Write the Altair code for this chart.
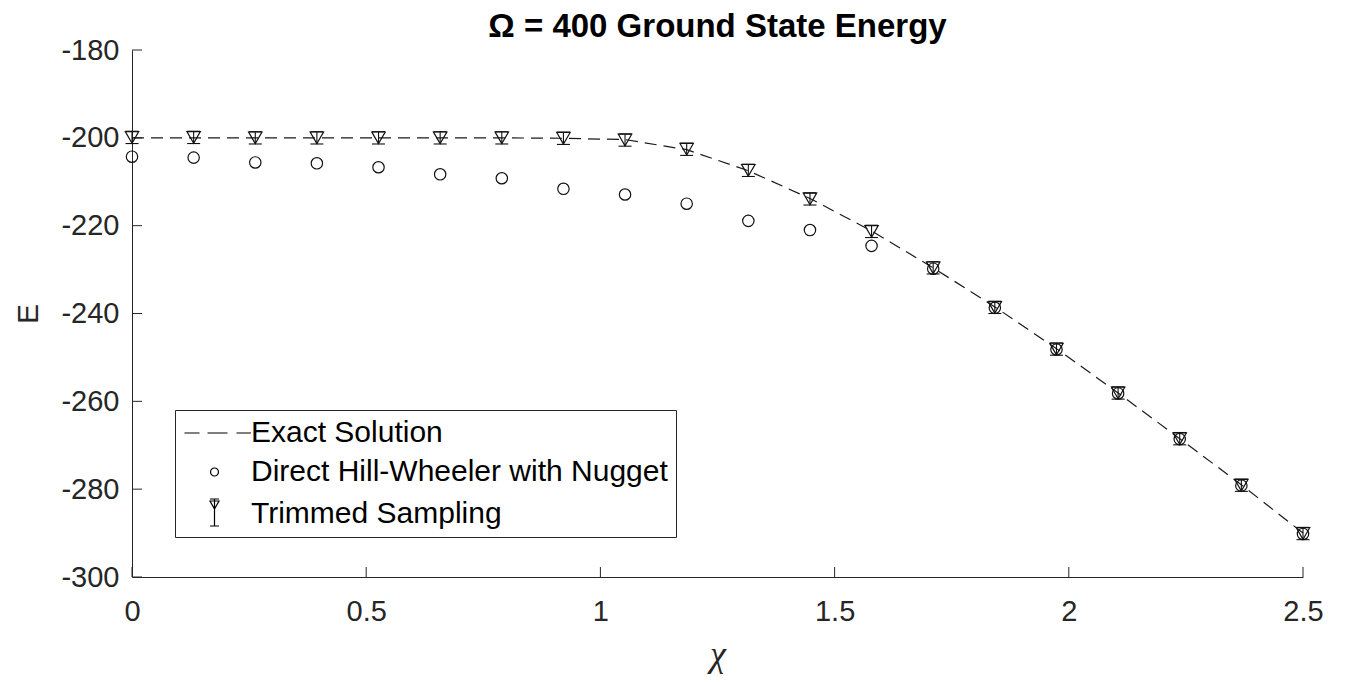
import altair as alt
import pandas as pd

# ---- data ----
chi = [0.0, 0.1316, 0.2632, 0.3947, 0.5263, 0.6579, 0.7895, 0.9211, 1.0526, 1.1842,
       1.3158, 1.4474, 1.5789, 1.7105, 1.8421, 1.9737, 2.1053, 2.2368, 2.3684, 2.5]
exact = [-200.0, -200.0, -200.0, -200.0, -200.0, -200.0, -200.0, -200.1, -200.4, -202.7,
         -207.5, -213.8, -221.2, -229.6, -238.5, -248.0, -258.1, -268.5, -279.0, -290.0]
nugget = [-204.3, -204.5, -205.6, -205.8, -206.7, -208.3, -209.2, -211.6, -212.9, -215.0,
          -218.9, -221.0, -224.6, -229.8, -238.7, -248.2, -258.2, -268.6, -279.2, -290.2]
trimmed = [-199.9, -199.9, -200.0, -200.0, -200.0, -200.0, -200.0, -200.1, -200.5, -202.6,
           -207.4, -213.9, -221.3, -229.6, -238.6, -248.1, -258.1, -268.5, -279.1, -290.1]
trimmed_err = [1.4, 1.4, 1.4, 1.4, 1.4, 1.4, 1.4, 1.4, 1.4, 1.4,
               1.4, 1.4, 1.4, 1.4, 1.4, 1.4, 1.4, 1.4, 1.4, 1.4]
x_ticks = [0, 0.5, 1, 1.5, 2, 2.5]
y_ticks = [-300, -280, -260, -240, -220, -200, -180]
series_names = ["Exact Solution", "Direct Hill-Wheeler with Nugget", "Trimmed Sampling"]
title_text = "Ω = 400 Ground State Energy"
x_title = "χ"
y_title = "E"

# ---- layout / style ----
W, H = 1171, 527
FONT = "Liberation Sans"
AX = "#262626"
TICK = 10

df = pd.DataFrame({"chi": chi, "exact": exact, "nugget": nugget,
                   "trimmed": trimmed, "err": trimmed_err})
xt = pd.DataFrame({"v": x_ticks})
yt = pd.DataFrame({"v": y_ticks})
leg = pd.DataFrame({"series": series_names})

xscale = alt.Scale(domain=[0, 2.5], nice=False, zero=False)
yscale = alt.Scale(domain=[-300, -180], nice=False, zero=False)

xaxis = alt.Axis(values=x_ticks, labelExpr="'' + datum.value", title=x_title,
                 grid=False, ticks=False, tickSize=0, labelPadding=20, labelFlush=False,
                 labelFont=FONT, labelFontSize=29, labelColor=AX,
                 domainColor=AX, domainWidth=1,
                 titleFont="Liberation Serif", titleFontStyle="italic",
                 titleFontWeight="normal", titleFontSize=36, titleColor=AX,
                 titleX=W / 2, titleY=88, titleBaseline="alphabetic", titleAlign="center")
yaxis = alt.Axis(values=y_ticks, labelExpr="'' + datum.value", title=y_title,
                 grid=False, ticks=False, tickSize=0, labelPadding=13, labelFlush=False,
                 labelFont=FONT, labelFontSize=29, labelColor=AX,
                 domainColor=AX, domainWidth=1,
                 titleFont=FONT, titleFontWeight="normal", titleFontSize=30,
                 titleColor=AX, titleX=-95, titleY=H / 2, titleAngle=270,
                 titleBaseline="alphabetic", titleAlign="center")

X = lambda f: alt.X(f, type="quantitative", scale=xscale, axis=xaxis)
Y = lambda f: alt.Y(f, type="quantitative", scale=yscale, axis=yaxis)

base = alt.Chart(df)

exact_line = base.mark_line(color="#1a1a1a", strokeWidth=1.2, strokeDash=[12, 7]).encode(
    x=X("chi"), y=Y("exact"))

circles = base.mark_point(shape="circle", filled=False, size=130, color="#111111",
                          strokeWidth=1.2, opacity=1).encode(x=X("chi"), y=Y("nugget"))

eb = base.transform_calculate(lo="datum.trimmed - datum.err", hi="datum.trimmed + datum.err")
err_rule = eb.mark_rule(color="#111111", strokeWidth=1.1).encode(
    x=X("chi"), y=Y("lo:Q"), y2="hi:Q")
cap_hi = eb.mark_tick(orient="horizontal", size=13, thickness=1.1, color="#111111",
                      opacity=1).encode(x=X("chi"), y=Y("hi:Q"))
cap_lo = eb.mark_tick(orient="horizontal", size=13, thickness=1.1, color="#111111",
                      opacity=1).encode(x=X("chi"), y=Y("lo:Q"))
triangles = base.mark_point(shape="triangle-down", filled=False, size=180, color="#111111",
                            strokeWidth=1.2, opacity=1).encode(x=X("chi"), y=Y("trimmed"))

# legend carried by an empty layer with custom symbol shapes
dash_path = "M-3.35,0H-1.85M-1.05,0H0.95M1.85,0H3.3"
circ_path = "M-0.75,0A0.4,0.4,0,1,1,0.05,0A0.4,0.4,0,1,1,-0.75,0Z"
tri_path = ("M-0.8,-1.5H0.1M-0.35,-1.5V1.2M-0.8,1.2H0.1"
            "M-0.8,-1.3L0.1,-1.3L-0.35,-0.5Z")
legend_layer = alt.Chart(leg).transform_filter("false").mark_point(
    filled=False, size=400, color="black", strokeWidth=1.2, opacity=1).encode(
    shape=alt.Shape("series:N",
                    scale=alt.Scale(domain=series_names,
                                    range=[dash_path, circ_path, tri_path]),
                    legend=alt.Legend(orient="none", legendX=43, legendY=360, title=None,
                                      labelFont=FONT, labelFontSize=30, labelColor="black",
                                      symbolSize=400, symbolStrokeColor="black",
                                      symbolStrokeWidth=1.2, symbolFillColor="transparent",
                                      symbolOffset=20, labelOffset=18, padding=8,
                                      rowPadding=9, fillColor="white",
                                      strokeColor="#262626", labelLimit=600)))

ytick_rules = alt.Chart(yt).mark_rule(color=AX, strokeWidth=1).encode(
    y=Y("v"), x=alt.value(0), x2=alt.value(TICK))
xtick_rules = alt.Chart(xt).mark_rule(color=AX, strokeWidth=1).encode(
    x=X("v"), y=alt.value(H), y2=alt.value(H - TICK))

chart = alt.layer(
    ytick_rules, xtick_rules, exact_line, circles, err_rule, cap_hi, cap_lo, triangles,
    legend_layer
).properties(
    width=W, height=H,
    title=alt.Title(title_text, font=FONT, fontSize=33, fontWeight="bold", color="black",
                    anchor="middle", frame="group", offset=8, dy=16),
    padding={"left": 132, "top": 50, "right": 43, "bottom": 109},
    autosize=alt.AutoSizeParams(type="none"),
    background="white",
).configure_view(stroke=None)

chart.save("out.html", embed_options={"renderer": "svg", "actions": False})
